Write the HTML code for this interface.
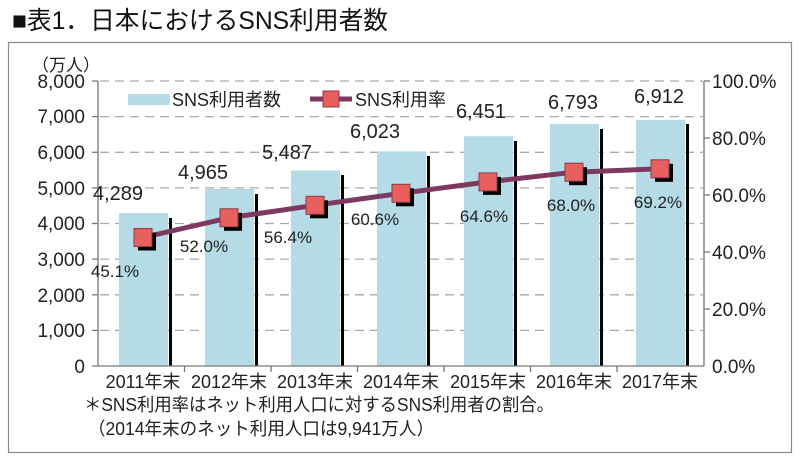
<!DOCTYPE html>
<html><head><meta charset="utf-8"><style>
html,body{margin:0;padding:0;background:#fff;}
svg{display:block;font-family:"Liberation Sans","Noto Sans CJK JP",sans-serif;}
</style></head><body>
<svg width="800" height="467" viewBox="0 0 800 467" xmlns="http://www.w3.org/2000/svg">
<rect width="800" height="467" fill="#fff"/>
<text x="12" y="29" font-size="25" fill="#111" textLength="376" lengthAdjust="spacingAndGlyphs">■表1．日本におけるSNS利用者数</text>
<rect x="8.5" y="42.5" width="783" height="410" fill="#fff" stroke="#888" stroke-width="1.2"/>
<text x="32" y="71" font-size="17" fill="#222">（万人）</text>
<g stroke="#aaa" stroke-width="1.3" stroke-dasharray="9,6">
<line x1="100" y1="81" x2="703" y2="81"/><line x1="100" y1="116.6" x2="703" y2="116.6"/>
<line x1="100" y1="152.3" x2="703" y2="152.3"/><line x1="100" y1="187.9" x2="703" y2="187.9"/>
<line x1="100" y1="223.5" x2="703" y2="223.5"/><line x1="100" y1="259.1" x2="703" y2="259.1"/>
<line x1="100" y1="294.8" x2="703" y2="294.8"/><line x1="100" y1="330.4" x2="703" y2="330.4"/>
</g>
<g font-size="19" fill="#222" text-anchor="end">
<text x="85" y="88">8,000</text><text x="85" y="123">7,000</text><text x="85" y="159">6,000</text>
<text x="85" y="195">5,000</text><text x="85" y="230">4,000</text><text x="85" y="266">3,000</text>
<text x="85" y="302">2,000</text><text x="85" y="337">1,000</text><text x="85" y="373">0</text>
</g>
<g font-size="19" fill="#222">
<text x="712" y="88">100.0%</text><text x="712" y="145">80.0%</text><text x="712" y="202">60.0%</text>
<text x="712" y="259">40.0%</text><text x="712" y="316">20.0%</text><text x="712" y="373">0.0%</text>
</g>
<g fill="#b5dce6">
<rect x="119" y="213" width="49" height="153"/>
<rect x="205" y="189" width="49" height="177"/>
<rect x="291" y="170.5" width="49" height="195.5"/>
<rect x="377" y="151.4" width="49" height="214.6"/>
<rect x="464" y="136.2" width="49" height="229.8"/>
<rect x="550" y="124" width="49" height="242"/>
<rect x="636" y="119.8" width="49" height="246.2"/>
</g>
<g fill="#000">
<rect x="169" y="218" width="3" height="148"/>
<rect x="255" y="194" width="3" height="172"/>
<rect x="341" y="175" width="3" height="191"/>
<rect x="427" y="156" width="3" height="210"/>
<rect x="514" y="141" width="3" height="225"/>
<rect x="600" y="129" width="3" height="237"/>
<rect x="686" y="124" width="3" height="242"/>
</g>
<g stroke="#777" stroke-width="1.3">
<line x1="98" y1="81" x2="98" y2="366"/><line x1="704" y1="81" x2="704" y2="366"/>
<line x1="92" y1="366" x2="704" y2="366"/>
<line x1="92" y1="81" x2="98" y2="81"/><line x1="92" y1="116.6" x2="98" y2="116.6"/><line x1="92" y1="152.3" x2="98" y2="152.3"/>
<line x1="92" y1="187.9" x2="98" y2="187.9"/><line x1="92" y1="223.5" x2="98" y2="223.5"/><line x1="92" y1="259.1" x2="98" y2="259.1"/>
<line x1="92" y1="294.8" x2="98" y2="294.8"/><line x1="92" y1="330.4" x2="98" y2="330.4"/>
<line x1="704" y1="81" x2="710" y2="81"/><line x1="704" y1="138" x2="710" y2="138"/><line x1="704" y1="195" x2="710" y2="195"/>
<line x1="704" y1="252" x2="710" y2="252"/><line x1="704" y1="309" x2="710" y2="309"/>
<line x1="184.5" y1="366" x2="184.5" y2="372"/><line x1="271" y1="366" x2="271" y2="372"/><line x1="357.5" y1="366" x2="357.5" y2="372"/>
<line x1="444" y1="366" x2="444" y2="372"/><line x1="530.5" y1="366" x2="530.5" y2="372"/><line x1="617" y1="366" x2="617" y2="372"/>
</g>
<polyline points="143,237.5 229,217.8 315,205.3 401,193.3 488,181.9 574,172.2 660,168.8" fill="none" stroke="#7d3a60" stroke-width="5"/>
<g>
<g transform="translate(143,237.5)"><rect x="-5" y="-5" width="18" height="18" fill="#000"/><rect x="-9" y="-9" width="18" height="18" fill="#e8605e" stroke="#8a3a4a" stroke-width="1"/></g>
<g transform="translate(229,217.8)"><rect x="-5" y="-5" width="18" height="18" fill="#000"/><rect x="-9" y="-9" width="18" height="18" fill="#e8605e" stroke="#8a3a4a" stroke-width="1"/></g>
<g transform="translate(315,205.3)"><rect x="-5" y="-5" width="18" height="18" fill="#000"/><rect x="-9" y="-9" width="18" height="18" fill="#e8605e" stroke="#8a3a4a" stroke-width="1"/></g>
<g transform="translate(401,193.3)"><rect x="-5" y="-5" width="18" height="18" fill="#000"/><rect x="-9" y="-9" width="18" height="18" fill="#e8605e" stroke="#8a3a4a" stroke-width="1"/></g>
<g transform="translate(488,181.9)"><rect x="-5" y="-5" width="18" height="18" fill="#000"/><rect x="-9" y="-9" width="18" height="18" fill="#e8605e" stroke="#8a3a4a" stroke-width="1"/></g>
<g transform="translate(574,172.2)"><rect x="-5" y="-5" width="18" height="18" fill="#000"/><rect x="-9" y="-9" width="18" height="18" fill="#e8605e" stroke="#8a3a4a" stroke-width="1"/></g>
<g transform="translate(660,168.8)"><rect x="-5" y="-5" width="18" height="18" fill="#000"/><rect x="-9" y="-9" width="18" height="18" fill="#e8605e" stroke="#8a3a4a" stroke-width="1"/></g>
</g>
<g font-size="20" fill="#222" text-anchor="middle">
<text x="118" y="200">4,289</text><text x="203" y="179">4,965</text><text x="287" y="159">5,487</text>
<text x="375" y="138">6,023</text><text x="481" y="118">6,451</text><text x="573" y="109">6,793</text><text x="659" y="103">6,912</text>
</g>
<g font-size="17" fill="#222" text-anchor="middle">
<text x="115" y="277">45.1%</text><text x="204" y="252">52.0%</text><text x="288" y="243">56.4%</text>
<text x="375" y="225">60.6%</text><text x="484" y="222">64.6%</text><text x="571" y="211">68.0%</text><text x="658" y="208">69.2%</text>
</g>
<rect x="128" y="94" width="42" height="11" fill="#b5dce6"/>
<text x="172" y="106" font-size="18" fill="#222">SNS利用者数</text>
<line x1="310" y1="99" x2="352" y2="99" stroke="#7d3a60" stroke-width="5"/>
<rect x="323" y="91" width="16" height="16" fill="#e8605e" stroke="#8a3a4a"/>
<text x="355" y="106" font-size="18" fill="#222">SNS利用率</text>
<g font-size="18" fill="#222" text-anchor="middle">
<text x="143" y="388">2011年末</text><text x="229" y="388">2012年末</text><text x="315" y="388">2013年末</text>
<text x="401" y="388">2014年末</text><text x="488" y="388">2015年末</text><text x="574" y="388">2016年末</text><text x="660" y="388">2017年末</text>
</g>
<text x="84" y="411" font-size="18" fill="#222" textLength="470" lengthAdjust="spacingAndGlyphs">＊SNS利用率はネット利用人口に対するSNS利用者の割合。</text>
<text x="88" y="435" font-size="18" fill="#222" textLength="346" lengthAdjust="spacingAndGlyphs">（2014年末のネット利用人口は9,941万人）</text>
</svg>
</body></html>
